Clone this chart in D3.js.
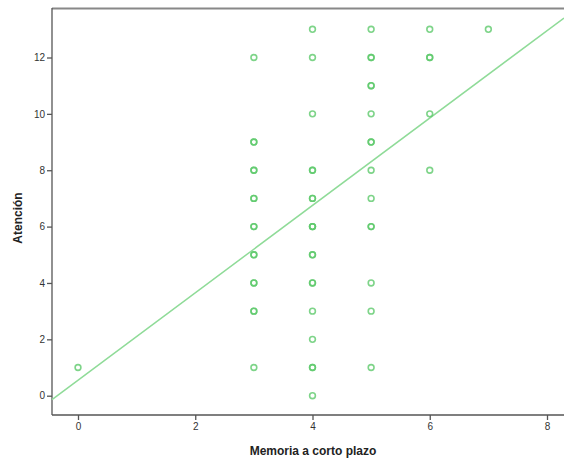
<!DOCTYPE html>
<html><head><meta charset="utf-8">
<script src="https://cdn.jsdelivr.net/npm/d3@7"></script>
<style>body{margin:0;background:#fff}svg{display:block}</style>
</head><body><svg id="c" width="564" height="460"></svg>
<script>
// Memoria a corto plazo (x) vs Atención (y); repeated pairs are listed more than once
const memoria = [0,
  3,3,3,3,3,3,3,3,3,3,3,3,3,3,3,3,
  4,4,4,4,4,4,4,4,4,4,4,4,4,4,4,4,4,4,4,
  5,5,5,5,5,5,5,5,5,5,5,5,5,5,5,
  6,6,6,6,6,
  7];
const atencion = [1,
  12,9,9,8,8,7,7,6,6,5,5,4,4,3,3,1,
  13,12,10,8,8,7,7,6,6,5,5,4,4,3,2,1,1,0,6,
  13,12,12,11,11,10,9,9,8,7,6,6,4,3,1,
  13,12,12,10,8,
  13];
const xTicks = [0,2,4,6,8];
const yTicks = [0,2,4,6,8,10,12];
const fitIntercept = 0.55, fitSlope = 1.55;
const xLabel = "Memoria a corto plazo", yLabel = "Atención";

const svg = d3.select("#c");
const L = 52, R = 567, T = 8, B = 415;
const x = d3.scaleLinear().domain([0, 8]).range([78, 547]);
const y = d3.scaleLinear().domain([0, 12]).range([395.7, 57.5]);
const green = "#5ec96c";

// frame
svg.append("line").attr("x1", L).attr("x2", R).attr("y1", T + 0.5).attr("y2", T + 0.5)
  .attr("stroke", "#888").attr("stroke-width", 2);

const gx = svg.append("g").attr("transform", `translate(0,${B})`)
  .call(d3.axisBottom(x).tickValues(xTicks).tickSize(5).tickPadding(3).tickSizeOuter(0));
const gy = svg.append("g").attr("transform", `translate(${L},0)`)
  .call(d3.axisLeft(y).tickValues(yTicks).tickSize(5).tickPadding(2).tickSizeOuter(0));
[gx, gy].forEach(g => {
  g.select(".domain").attr("stroke", "#555").attr("stroke-width", 1.3);
  g.selectAll(".tick line").attr("stroke", "#555").attr("stroke-width", 1.3);
  g.selectAll("text").attr("fill", "#333").style("font-family", "Arial, 'Liberation Sans', sans-serif").style("font-size", "10px");
});
gx.select(".domain").attr("d", `M${L},0H${R}`);
gy.select(".domain").attr("d", `M0,${B}V${T}`);

// fit line
const xl = x.invert(L), xr = x.invert(R - 3);
svg.append("line")
  .attr("x1", x(xl)).attr("y1", y(fitIntercept + fitSlope * xl))
  .attr("x2", x(xr)).attr("y2", y(fitIntercept + fitSlope * xr))
  .attr("stroke", "#8fdb98").attr("stroke-width", 1.5);

// points
svg.append("g").selectAll("circle").data(memoria.map((m, i) => [m, atencion[i]]))
  .join("circle")
  .attr("cx", d => x(d[0])).attr("cy", d => y(d[1])).attr("r", 2.9)
  .attr("fill", "none").attr("stroke", green).attr("stroke-width", 1.6).attr("stroke-opacity", 0.8);

// labels
svg.append("text").attr("x", 313).attr("y", 455).attr("text-anchor", "middle")
  .style("font-family", "Arial, 'Liberation Sans', sans-serif").style("font-weight", "bold")
  .style("font-size", "12px").attr("fill", "#222").text(xLabel);
svg.append("text").attr("transform", "translate(22,218) rotate(-90)").attr("text-anchor", "middle")
  .style("font-family", "Arial, 'Liberation Sans', sans-serif").style("font-weight", "bold")
  .style("font-size", "12px").attr("fill", "#222").text(yLabel);
</script></body></html>
